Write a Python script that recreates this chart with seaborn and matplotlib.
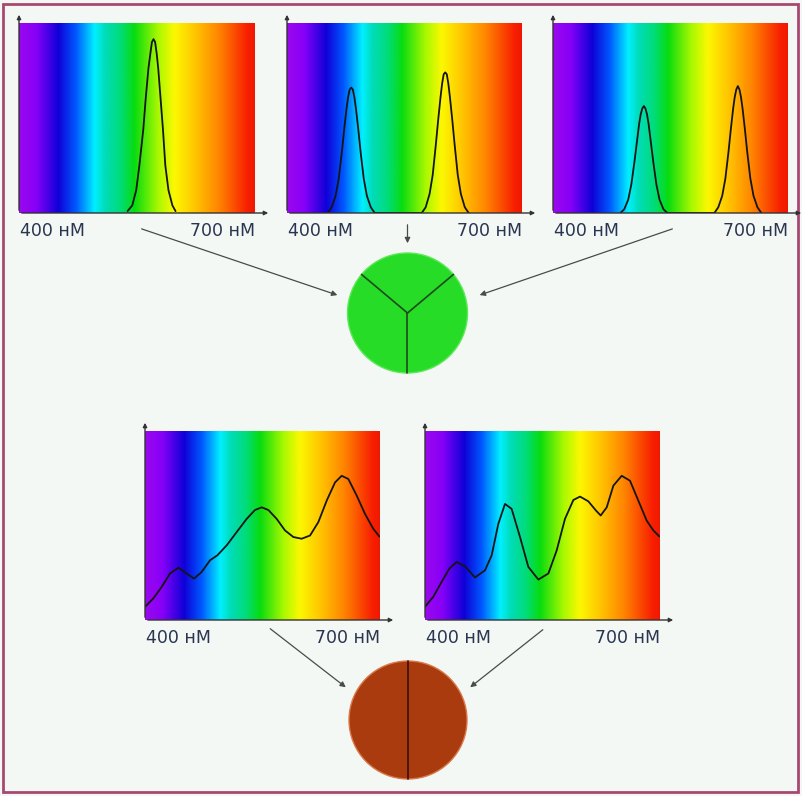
import numpy as np
import matplotlib
matplotlib.use("Agg")
import matplotlib.pyplot as plt
from matplotlib.colors import LinearSegmentedColormap
from matplotlib.patches import Circle, Rectangle
import seaborn as sns

sns.set_theme(style="white")
plt.rcParams['font.family'] = ['DejaVu Sans']

# spectra: wavelength (nm) and relative intensity
x_green = [538, 544, 549, 553, 558, 561, 564.5, 567, 569, 571, 573, 575, 577, 580, 583, 586, 590, 595, 599]
y_green = [0.01, 0.04, 0.12, 0.25, 0.44, 0.6, 0.76, 0.84, 0.9, 0.915, 0.9, 0.84, 0.76, 0.6, 0.44, 0.25, 0.12, 0.04, 0.01]

x_two_a = [452, 457, 462, 466, 470, 473, 476, 478, 480, 482, 484, 486, 488, 491, 494, 498, 502, 507, 512,
           572, 577, 582, 586, 590, 593, 596, 598, 600, 602, 604, 606, 608, 611, 614, 618, 622, 627, 632]
y_two_a = [0, 0.03, 0.09, 0.18, 0.32, 0.44, 0.55, 0.61, 0.65, 0.66, 0.65, 0.61, 0.55, 0.44, 0.32, 0.18, 0.09, 0.03, 0,
           0, 0.03, 0.1, 0.2, 0.36, 0.49, 0.61, 0.68, 0.73, 0.74, 0.73, 0.68, 0.61, 0.49, 0.36, 0.2, 0.1, 0.03, 0]

x_two_b = [486, 491, 496, 500, 504, 507, 510, 512, 514, 516, 518, 520, 522, 525, 528, 532, 536, 541, 546,
           606, 611, 616, 620, 624, 627, 630, 632, 634, 636, 638, 640, 642, 645, 648, 652, 656, 661, 666]
y_two_b = [0, 0.02, 0.07, 0.15, 0.27, 0.37, 0.47, 0.52, 0.55, 0.563, 0.55, 0.52, 0.47, 0.37, 0.27, 0.15, 0.07, 0.02, 0,
           0, 0.03, 0.09, 0.18, 0.32, 0.44, 0.55, 0.61, 0.65, 0.668, 0.65, 0.61, 0.55, 0.44, 0.32, 0.18, 0.09, 0.03, 0]

x_brown_a = [400, 410.6, 421.3, 431.9, 442.6, 453.2, 462.6, 472.3, 483, 492.3, 504.3, 517, 529.8,
             540.4, 549, 557.5, 568.1, 578.7, 589.4, 600, 610.7, 621.3, 632, 642.6, 651.1,
             659.6, 670.3, 680.9, 691.5, 699.2]
y_brown_a = [0.07, 0.114, 0.175, 0.246, 0.277, 0.246, 0.219, 0.254, 0.316, 0.342, 0.395, 0.465, 0.535,
             0.582, 0.596, 0.582, 0.535, 0.474, 0.439, 0.43, 0.447, 0.518, 0.632, 0.728, 0.763,
             0.746, 0.658, 0.561, 0.482, 0.442]

x_brown_b = [400, 410.6, 421.3, 431.1, 440.4, 451.1, 463.8, 476.6, 485.1, 493.6, 502.1, 510.6,
             521.3, 531.9, 544.7, 557.5, 568.1, 578.7, 589.4, 597.9, 608.5, 618.3, 624.3, 632,
             640.5, 651.1, 661.7, 672.3, 683, 691.5, 699.2]
y_brown_b = [0.07, 0.123, 0.202, 0.272, 0.307, 0.284, 0.225, 0.263, 0.342, 0.509, 0.614, 0.588,
             0.439, 0.281, 0.214, 0.246, 0.368, 0.535, 0.635, 0.653, 0.628, 0.579, 0.553, 0.596,
             0.711, 0.763, 0.737, 0.632, 0.526, 0.474, 0.442]

label_lo = "400 нМ"
label_hi = "700 нМ"

spectrum = LinearSegmentedColormap.from_list("spectrum", [
    (0.0, "#9a08ee"), (0.07, "#8800f8"), (0.165, "#1000d8"), (0.24, "#0058ff"),
    (0.32, "#00f0ff"), (0.365, "#00dcb8"), (0.43, "#00dc78"), (0.49, "#08dc10"),
    (0.59, "#a8f800"), (0.66, "#fcf800"), (0.75, "#ffc400"), (0.85, "#ff8400"),
    (0.97, "#f82000"), (1.0, "#f01800")])

W, H = 803, 796
bg = "#f4f8f5"
fig = plt.figure(figsize=(W / 100, H / 100), dpi=100, facecolor=bg)

# overlay in pixel coordinates for circles, arrows and frame
ov = fig.add_axes([0, 0, 1, 1])
ov.set_xlim(0, W)
ov.set_ylim(H, 0)
ov.axis("off")
ov.patch.set_alpha(0)

ov.add_patch(Rectangle((3, 4), 795, 788, fill=False, ec="#a8476f", lw=2))


def panel(px, py, pw, ph, xs, ys):
    ax = fig.add_axes([px / W, 1 - (py + ph) / H, pw / W, ph / H])
    grad = np.linspace(0, 1, 400)[None, :]
    ax.imshow(grad, cmap=spectrum, aspect="auto", extent=[400, 700, 0, 1], zorder=0)
    sns.lineplot(x=xs, y=ys, ax=ax, color="#151515", lw=1.3, sort=False, zorder=3)
    ax.set_xlim(400, 700)
    ax.set_ylim(0, 1)
    ax.axis("off")
    ap = dict(arrowstyle="-|>", color="#333333", lw=1.0, mutation_scale=6)
    ax.annotate("", xy=(0, 1 + 11 / ph), xytext=(0, 0), xycoords="axes fraction",
                arrowprops=ap, annotation_clip=False)
    ax.annotate("", xy=(1 + 16 / pw, 0), xytext=(0, 0), xycoords="axes fraction",
                arrowprops=ap, annotation_clip=False)
    ax.text(0.005, -0.045, label_lo, transform=ax.transAxes, ha="left", va="top",
            fontsize=12.5, color="#2a3550")
    ax.text(1.0, -0.045, label_hi, transform=ax.transAxes, ha="right", va="top",
            fontsize=12.5, color="#2a3550")
    return ax


panel(19, 23, 236, 190, x_green, y_green)
panel(287, 23, 235, 190, x_two_a, y_two_a)
panel(553, 23, 235, 190, x_two_b, y_two_b)
panel(145, 431, 235, 189, x_brown_a, y_brown_a)
panel(425, 431, 235, 189, x_brown_b, y_brown_b)

# green circle split in three
gc = (407.5, 313)
gr = 60
ov.add_patch(Circle(gc, gr, fc="#27dc26", ec="#5ee85a", lw=1))
for ang in (140, 40, 270):
    a = np.deg2rad(ang)
    ov.plot([gc[0], gc[0] + gr * np.cos(a)], [gc[1], gc[1] - gr * np.sin(a)],
            color="#1d4a1a", lw=1.2)

# brown circle split in two
bc = (408, 720)
br = 59
ov.add_patch(Circle(bc, br, fc="#a93b0e", ec="#d9794a", lw=1))
ov.plot([bc[0], bc[0]], [bc[1] - br, bc[1] + br], color="#3a1005", lw=1.2)

arrow = dict(arrowstyle="-|>", color="#4a4a4a", lw=0.9, mutation_scale=8)
for (x0, y0), (x1, y1) in [((139, 228), (340, 296)), ((407.5, 222), (407.5, 246)),
                           ((675, 228), (477, 296)), ((268, 627), (348, 689)),
                           ((545, 628), (468, 689))]:
    ov.annotate("", xy=(x1, y1), xytext=(x0, y0), arrowprops=arrow)

fig.savefig("out.png", dpi=100, facecolor=bg)
